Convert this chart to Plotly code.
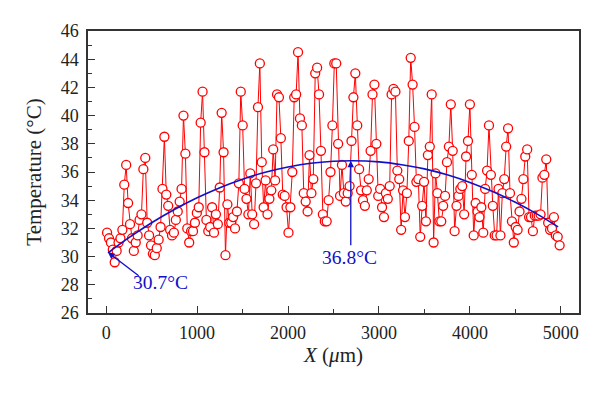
import plotly.graph_objects as go

# Sampling positions (um): uniform scan grid, 21 um step
x_pos = list(range(10, 4990, 21))

# Temperature readings (deg C)
temp = [
    31.7, 31.3, 31.0, 30.5, 29.6,
    30.4, 31.0, 31.3, 31.9, 35.1, 36.5, 33.8, 32.3, 31.3, 30.4,
    31.0, 31.5, 32.6, 33.0, 36.2, 37.0, 32.4, 31.5, 30.8, 30.2,
    30.1, 30.6, 31.2, 32.1, 34.8, 38.5, 34.4, 33.6, 31.9, 31.5,
    31.7, 32.6, 33.2, 33.9, 34.8, 40.0, 37.3, 32.0, 31.0, 31.8,
    31.8, 32.4, 33.1, 33.5, 39.5, 41.7, 37.4, 32.6, 31.8, 32.1,
    33.5, 31.7, 33.0, 32.3, 34.9, 40.2, 37.4, 30.1, 33.7, 32.4,
    32.4, 32.8, 32.0, 33.2, 35.2, 41.7, 39.3, 34.8, 34.1, 33.0,
    35.9, 33.0, 32.3, 35.2, 40.6, 43.7, 36.7, 33.5, 35.4, 33.0,
    34.1, 34.7, 37.6, 35.4, 41.5, 41.3, 38.4, 34.4, 34.3, 33.5,
    31.7, 33.5, 36.0, 41.3, 41.5, 44.5, 39.8, 39.3, 34.5, 33.9,
    33.2, 37.2, 34.5, 35.5, 43.0, 43.4, 41.5, 37.5, 33.0, 32.5,
    32.5, 34.0, 36.0, 39.3, 43.7, 43.7, 38.0, 34.3, 36.5, 34.5,
    33.9, 34.5, 35.0, 38.2, 41.3, 43.0, 39.3, 36.2, 34.7, 34.0,
    33.6, 34.7, 35.5, 37.5, 41.5, 42.2, 38.0, 34.3, 34.8, 33.5,
    32.8, 34.5, 34.1, 35.0, 41.5, 41.9, 41.7, 36.1, 35.5, 31.9,
    34.7, 32.8, 34.5, 38.2, 44.1, 42.2, 39.2, 35.3, 35.5, 31.4,
    33.6, 35.3, 32.5, 37.2, 37.8, 41.5, 31.0, 35.9, 34.5, 32.5,
    32.5, 33.6, 34.3, 36.7, 37.8, 40.8, 37.5, 31.8, 33.6, 34.3,
    34.8, 35.0, 33.0, 37.1, 38.2, 40.8, 35.8, 31.5, 33.8, 33.2,
    32.8, 33.5, 31.7, 34.8, 36.1, 39.3, 35.8, 33.6, 31.5, 31.5,
    34.8, 31.5, 34.5, 35.5, 37.8, 39.1, 34.5, 32.5, 31.0, 32.1,
    31.9, 33.2, 34.1, 35.5, 37.1, 37.6, 32.8, 32.8, 31.8, 32.9,
    32.9, 32.9, 33.0, 35.6, 35.8, 36.9, 32.4, 31.9, 32.0, 32.8,
    31.5, 31.4, 30.8,
]

# Fitted trend curve
fit_x = [20, 250, 500, 750, 1000, 1250, 1500, 1750, 2000, 2250, 2500, 2700,
         3000, 3250, 3500, 3750, 4000, 4250, 4500, 4750, 4970]
fit_y = [30.26, 31.34, 32.40, 33.34, 34.17, 34.89, 35.49, 35.98, 36.35, 36.62,
         36.76, 36.80, 36.72, 36.52, 36.22, 35.80, 35.26, 34.61, 33.85, 32.98, 32.11]

x_ticks = [0, 1000, 2000, 3000, 4000, 5000]
y_ticks = [26, 28, 30, 32, 34, 36, 38, 40, 42, 44, 46]

FONT = "Liberation Serif"
BLUE = "#1010c8"

fig = go.Figure()
fig.add_trace(go.Scatter(
    x=x_pos, y=temp, mode="lines+markers",
    line=dict(color="#ff0000", width=1.0),
    marker=dict(symbol="circle", size=9, color="white",
                line=dict(color="#ff0000", width=1.3)),
    showlegend=False, hoverinfo="skip"))
fig.add_trace(go.Scatter(
    x=fit_x, y=fit_y, mode="lines", line=dict(color=BLUE, width=1.6, shape="spline"),
    showlegend=False, hoverinfo="skip"))

axis_common = dict(
    showgrid=False, zeroline=False, showline=True, mirror=True,
    linecolor="#333333", linewidth=1.5, ticks="inside", ticklen=7,
    tickwidth=1.2, tickcolor="#333333", automargin=False,
    tickfont=dict(family=FONT, size=18, color="#222222"),
)

# The page body adds an 8px offset, so the figure is sized 592x386
fig.update_layout(
    width=592, height=386,
    margin=dict(l=80, r=21, t=23, b=81),
    paper_bgcolor="white", plot_bgcolor="white",
    font=dict(family=FONT, color="#222222"),
    xaxis=dict(range=[-200, 5200], tickvals=x_ticks, ticklabelstandoff=3,
               minor=dict(dtick=500, tick0=0, ticks="inside", ticklen=4,
                          tickcolor="#333333"),
               title=dict(text="<i>X</i> (<i>μ</i>m)", font=dict(family=FONT, size=21),
                          standoff=0),
               **axis_common),
    yaxis=dict(range=[26, 46], tickvals=y_ticks, ticklabelstandoff=4,
               minor=dict(dtick=1, tick0=26, ticks="inside", ticklen=4,
                          tickcolor="#333333"),
               title=dict(text="Temperature (°C)", font=dict(family=FONT, size=21),
                          standoff=13),
               **axis_common),
)

# Arrow annotations
fig.add_annotation(x=20, y=30.3, ax=374, ay=28.56, axref="x", ayref="y",
                   text="", showarrow=True, arrowhead=2, arrowsize=1,
                   arrowwidth=1.3, arrowcolor=BLUE)
fig.add_annotation(x=600, y=28.14, text="30.7°C", showarrow=False,
                   font=dict(family=FONT, size=19.5, color=BLUE))
fig.add_annotation(x=2690, y=36.8, ax=2690, ay=30.7, axref="x", ayref="y",
                   text="", showarrow=True, arrowhead=2, arrowsize=1,
                   arrowwidth=1.3, arrowcolor=BLUE)
fig.add_annotation(x=2673, y=29.91, text="36.8°C", showarrow=False,
                   font=dict(family=FONT, size=19.5, color=BLUE))

fig.write_html("out.html")
